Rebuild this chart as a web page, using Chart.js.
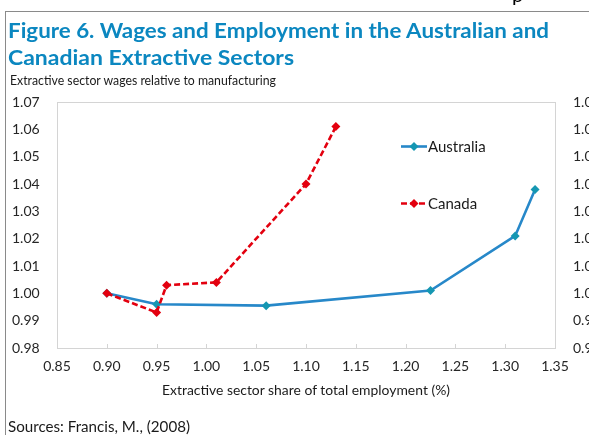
<!DOCTYPE html>
<html><head><meta charset="utf-8">
<script src="https://cdn.jsdelivr.net/npm/chart.js@4.4.1/dist/chart.umd.min.js"></script>
<style>
html,body{margin:0;padding:0;width:589px;height:435px;overflow:hidden;background:#fff;}
#wrap{position:relative;width:589px;height:435px;overflow:hidden;}
canvas{position:absolute;left:0;top:0;}
.t{position:absolute;white-space:nowrap;font-family:Lato,sans-serif;line-height:1.2;transform-origin:0 0;color:#1a1a1a;}
.ttl{font-weight:bold;color:#0b87c0;font-size:21px;}
#hl{position:absolute;left:5px;top:11px;width:600px;height:0;border-top:1px solid #8a8a8a;}
#vl{position:absolute;left:5px;top:11px;width:0;height:430px;border-left:1px solid #8a8a8a;}
</style></head>
<body><div id="wrap">
<canvas id="c" width="620" height="435"></canvas>
<div id="hl"></div><div id="vl"></div>
<div class="t" id="pp" style="left:512px;top:-18px;font-size:20px;color:#000;">p</div>
<div class="t ttl" id="t1" style="left:8px;top:17px;">Figure 6. Wages and Employment in the Australian and</div>
<div class="t ttl" id="t2" style="left:8px;top:43.6px;">Canadian Extractive Sectors</div>
<div class="t" id="sub" style="left:10px;top:73px;font-size:13px;">Extractive sector wages relative to manufacturing</div>
<div class="t" id="xt" style="left:162px;top:383px;font-size:13px;">Extractive sector share of total employment (%)</div>
<div class="t" id="src" style="left:8px;top:417px;font-size:15px;">Sources: Francis, M., (2008)</div>
</div>
<script>
// ---- data ----
const seriesNames = ['Australia', 'Canada'];
const ausShare = [0.90, 0.95, 1.06, 1.225, 1.31, 1.33];
const ausWage  = [1.000, 0.996, 0.9955, 1.001, 1.021, 1.038];
const canShare = [0.90, 0.95, 0.96, 1.01, 1.10, 1.13];
const canWage  = [1.000, 0.993, 1.003, 1.004, 1.040, 1.061];
const xRange = [0.85, 1.35, 0.05];
const yRange = [0.98, 1.07, 0.01];

function fit(id, w){
  const el = document.getElementById(id);
  const cur = el.getBoundingClientRect().width;
  el.style.transform = 'scaleX(' + (w / cur) + ')';
}
fit('t1', 541); fit('t2', 286); fit('sub', 266); fit('xt', 288); fit('src', 182);

const toPts = (xs, ys) => xs.map((x, i) => ({x: x, y: ys[i]}));

const framePlugin = {
  id: 'frame',
  beforeDatasetsDraw(chart){
    const {ctx, chartArea: a} = chart;
    const xs = chart.scales.x;
    ctx.save();
    ctx.strokeStyle = '#d4d4d4';
    ctx.lineWidth = 1;
    ctx.strokeRect(Math.round(a.left) + 0.5, Math.round(a.top) + 0.5, Math.round(a.right - a.left), Math.round(a.bottom - a.top));
    ctx.beginPath();
    xs.ticks.forEach(t => {
      const px = Math.round(xs.getPixelForValue(t.value)) + 0.5;
      ctx.moveTo(px, a.bottom);
      ctx.lineTo(px, a.bottom - 4);
    });
    ctx.stroke();
    ctx.restore();
  }
};

function diamond(ctx, x, y, r){
  ctx.beginPath();
  ctx.moveTo(x, y - r); ctx.lineTo(x + r, y); ctx.lineTo(x, y + r); ctx.lineTo(x - r, y);
  ctx.closePath(); ctx.fill();
}

const legendPlugin = {
  id: 'inlegend',
  afterDatasetsDraw(chart){
    const {ctx, chartArea: a} = chart;
    const rows = [146, 203];
    ctx.save();
    chart.data.datasets.forEach((ds, i) => {
      const y = rows[i] + 0.5;
      const x0 = a.left + 344, x1 = a.left + 370;
      ctx.strokeStyle = ds.borderColor;
      ctx.lineWidth = ds.borderWidth;
      ctx.setLineDash(ds.borderDash || []);
      ctx.beginPath(); ctx.moveTo(x0, y); ctx.lineTo(x1, y); ctx.stroke();
      ctx.setLineDash([]);
      ctx.fillStyle = ds.pointBackgroundColor;
      diamond(ctx, (x0 + x1) / 2, y, 4.5);
      ctx.fillStyle = '#1a1a1a';
      ctx.font = '15px Lato';
      ctx.textBaseline = 'middle';
      ctx.textAlign = 'left';
      ctx.fillText(ds.label, x1 + 1, y + 1);
    });
    ctx.restore();
  }
};

const tickFont = {family: 'Lato', size: 14};
const yTickCb = v => Number(v).toFixed(2);

new Chart(document.getElementById('c'), {
  type: 'scatter',
  data: {
    datasets: [
      {label: seriesNames[0], data: toPts(ausShare, ausWage), showLine: true, order: 2,
       borderColor: '#2788c9', borderWidth: 2.6, pointStyle: 'rectRot', pointRadius: 4.5,
       pointBackgroundColor: '#1597b2', pointBorderColor: '#1597b2', pointBorderWidth: 0, tension: 0},
      {label: seriesNames[1], data: toPts(canShare, canWage), showLine: true, order: 1,
       borderColor: '#e3000f', borderWidth: 2.6, borderDash: [6, 3], pointStyle: 'rectRot', pointRadius: 4.5,
       pointBackgroundColor: '#e3000f', pointBorderColor: '#e3000f', pointBorderWidth: 0, tension: 0}
    ]
  },
  options: {
    responsive: false, animation: false, devicePixelRatio: 1,
    layout: {padding: {left: 12, top: 102, right: 0, bottom: 27}},
    plugins: {legend: {display: false}, tooltip: {enabled: false}},
    scales: {
      x: {type: 'linear', position: 'bottom', min: xRange[0], max: xRange[1],
          grid: {display: false, drawTicks: false}, border: {display: false},
          ticks: {stepSize: xRange[2], autoSkip: false, maxRotation: 0, font: tickFont, color: '#262626', padding: 10,
                  callback: v => Number(v).toFixed(2)},
          afterFit: s => { s.height = 60; }},
      y: {type: 'linear', position: 'left', min: yRange[0], max: yRange[1],
          grid: {display: false, drawTicks: false}, border: {display: false},
          ticks: {stepSize: yRange[2], autoSkip: false, font: tickFont, color: '#262626', crossAlign: 'far', callback: yTickCb},
          afterFit: s => { s.width = 45; }},
      y2: {type: 'linear', position: 'right', min: yRange[0], max: yRange[1],
          grid: {display: false, drawTicks: false}, border: {display: false},
          ticks: {stepSize: yRange[2], autoSkip: false, font: tickFont, color: '#262626', padding: 18, callback: yTickCb},
          afterFit: s => { s.width = 65; }}
    }
  },
  plugins: [framePlugin, legendPlugin]
});
</script>
</body></html>
